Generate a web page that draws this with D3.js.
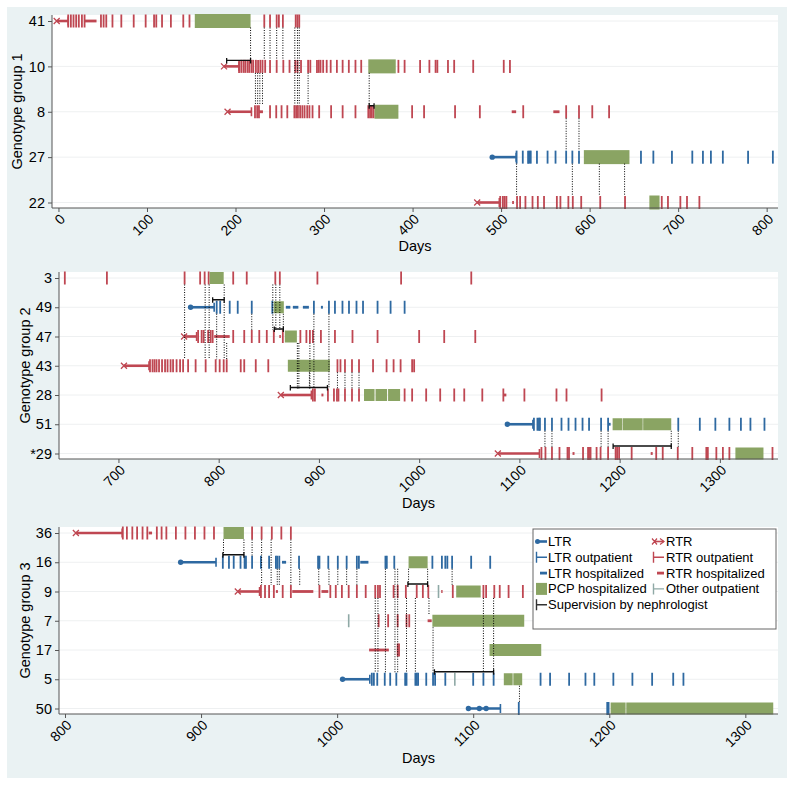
<!doctype html>
<html lang="en">
<head>
<meta charset="utf-8">
<title>Genotype groups: transplant, visits and PCP hospitalisations</title>
<script src="https://cdn.jsdelivr.net/npm/d3@7"></script>
<style>
  body { margin: 0; background: #fff; }
  svg text { font-family: "Liberation Sans", Arial, Helvetica, sans-serif; fill: #000; }
</style>
</head>
<body>
<svg id="chart" width="795" height="785"></svg>
<script>
// ---------- data, all values in days ----------
// genotype group 1
const rows1 = ["41", "10", "8", "27", "22"];
const kind1 = ["RTR", "RTR", "RTR", "LTR", "RTR"];
const transplant1 = [[-2, 11], [187, 204], [191, 218], [490, 517], [473, 498]];
const outpatient1 = [
  [11, 14, 17, 20, 23, 26.5, 29.5, 48, 51, 54, 61, 71, 85, 98.5, 108, 110.5, 117, 127, 141, 148, 232.5, 239, 246.5, 249, 253.5, 268, 270, 272],
  [204, 206.5, 209, 211, 213.5, 215.5, 218, 220, 223, 225.5, 228, 230.5, 233.5, 239, 246.5, 254, 261, 267.5, 270, 274, 282, 284.5, 292, 294, 296, 299, 303, 307.5, 314.5, 321, 328, 335.5, 342, 384, 391, 408.5, 419, 426, 428, 440, 447, 468.5, 503, 510],
  [222, 224.5, 226.5, 239, 246, 252, 258.5, 266.5, 268.5, 270.5, 273, 275.5, 278, 281, 283.5, 287, 294.5, 308, 321, 335.5, 350, 352, 354, 356, 399.5, 413, 448, 476, 525, 573.5, 588, 603, 622],
  [517.5, 524.5, 530.5, 532, 533.5, 540.5, 552.5, 561.5, 573.5, 580.5, 588, 658, 672, 693, 716, 728, 737, 750.5, 779, 807],
  [499, 502, 504, 506, 518, 521.5, 527.5, 535.5, 541.5, 548.5, 563, 567, 576, 581, 590.5, 612, 640, 681.5, 688.5, 702.5, 710, 724]
];
const other1 = [[], [], [], [], []];
const hospital1 = [[[29.5, 43]], [], [[226.5, 231], [512, 517], [559, 566]], [], [[512.5, 514.5]]];
const pcp1 = [[[154, 217]], [[350, 381]], [[357, 384]], [[593.5, 645]], [[667.5, 679]]];
const nephro1 = [[], [[190, 217]], [[351, 356.5]], [], []];
const contacts1 = [
  [217, "41", "10"], [232.5, "41", "10"], [239, "41", "10"], [246.5, "41", "10"], [253.5, "41", "10"],
  [267, "41", "8"], [270, "41", "8"], [272, "41", "8"],
  [222.5, "10", "8"], [225, "10", "8"], [227.5, "10", "8"], [230.5, "10", "8"], [282, "10", "8"], [351, "10", "8"],
  [573.5, "8", "27"], [588, "8", "27"],
  [517.5, "27", "22"], [580.5, "27", "22"], [611, "27", "22"], [639.5, "27", "22"]
];
const ticks1 = [0, 100, 200, 300, 400, 500, 600, 700, 800];

// genotype group 2
const rows2 = ["3", "49", "47", "43", "28", "51", "*29"];
const kind2 = ["RTR", "LTR", "RTR", "RTR", "RTR", "LTR", "RTR"];
const transplant2 = [null, [772, 795.5], [765.5, 778], [705.5, 730.5], [862, 892.5], [1088, 1113.5], [1078.5, 1120]];
const outpatient2 = [
  [646.5, 688.5, 766, 781.5, 786, 790, 814.5, 828, 856.5, 861, 898.5, 982, 1052],
  [798, 801.5, 811, 819, 833, 853.5, 895, 910, 916, 923.5, 930, 937.5, 944, 958.5, 971.5, 985.5],
  [779.5, 783, 785, 789.5, 792, 794, 814.5, 825.5, 833, 840.5, 848, 855, 864, 881.5, 887.5, 891, 894, 902, 916, 933.5, 958.5, 1000, 1025, 1056],
  [731.5, 734, 736, 738, 740.5, 743.5, 746.5, 749, 752, 754.5, 758, 761.5, 764.5, 769.5, 777, 787, 797, 801, 805, 808, 822, 825.5, 837, 849.5, 918.5, 921.5, 926, 933, 940, 954, 967.5, 974.5, 981.5, 993, 995],
  [894, 896, 909, 915, 918, 919.5, 926, 933, 940, 985.5, 993, 1007, 1021, 1035, 1045, 1063, 1084, 1105, 1137, 1147, 1182],
  [1114.5, 1118, 1119.5, 1120.5, 1125.5, 1132.5, 1142, 1149, 1156, 1163, 1169.5, 1181.5, 1188.5, 1258.5, 1280, 1295.5, 1309.5, 1321, 1330.5, 1344.5],
  [1122, 1126, 1132.5, 1140, 1148, 1149.5, 1163.5, 1168.5, 1169.5, 1171, 1177, 1181, 1188.5, 1196, 1197.5, 1199.5, 1212, 1236.5, 1243, 1258, 1272.5, 1286.5, 1288, 1296.5, 1303, 1309.5, 1352.5]
];
const other2 = [[], [], [], [], [], [], []];
const hospital2 = [[], [[867, 871.5], [874, 879.5], [884, 890], [902, 904]], [[795.5, 811], [860.5, 862]], [], [[902.5, 904.5], [1084, 1087]], [[1188.5, 1191]], [[1153, 1155], [1231, 1233]]];
const pcp2 = [[[791, 805]], [[855, 865]], [[866, 878]], [[869, 911]], [[945, 955.5], [956.5, 968], [969, 981]], [[1193, 1202.5], [1203, 1223], [1223.5, 1251.5]], [[1315.5, 1343.5]]];
const nephro2 = [[], [[794, 805.5]], [[855.5, 864.5]], [], [[871.5, 908.5]], [], [[1193.5, 1251.5]]];
const contacts2 = [
  [766, "3", "43"], [786.5, "3", "43"], [790.5, "3", "43"], [798, "49", "43"], [805.5, "3", "43"], [808, "47", "43"],
  [833, "49", "47"], [854, "3", "47"], [857, "3", "47"], [861, "3", "47"], [864.5, "49", "47"],
  [878.5, "47", "28"], [880, "47", "28"], [890.5, "43", "28"], [891, "47", "28"], [895, "49", "28"], [910, "49", "28"],
  [918.5, "43", "28"], [926, "43", "28"], [933, "43", "28"], [940, "43", "28"],
  [1125.5, "51", "*29"], [1132.5, "51", "*29"], [1181.5, "51", "*29"], [1188.5, "51", "*29"], [1251.5, "51", "*29"], [1258.5, "51", "*29"]
];
const ticks2 = [700, 800, 900, 1000, 1100, 1200, 1300];

// genotype group 3
const rows3 = ["36", "16", "9", "7", "17", "5", "50"];
const kind3 = ["RTR", "LTR", "RTR", "RTR", "RTR", "LTR", "LTR"];
const transplant3 = [[808, 842], [885, 911], [927, 943], null, null, [1004, 1024], [1096.5, 1104.5, 1109.5, 1120]];
const outpatient3 = [
  [842.5, 845.5, 849.5, 853, 857, 860.5, 867.5, 871, 874.5, 881.5, 888.5, 895.5, 902.5, 909.5, 937.5, 944.5, 952, 959, 966],
  [916, 920.5, 924, 929, 932, 933, 937.5, 944, 950, 955, 956, 957.5, 972, 986, 987, 993.5, 1000.5, 1007, 1014.5, 1016, 1035.5, 1036.5, 1042, 1070, 1077, 1079.5, 1081, 1084.5, 1098.5, 1112.5],
  [944, 947, 950, 953.5, 960, 966, 987, 995, 999, 1003.5, 1008.5, 1014.5, 1021, 1028, 1030, 1031.5, 1041.5, 1044.5, 1050.5, 1058.5, 1063, 1067, 1085, 1107.5, 1109.5, 1115.5, 1119.5, 1126, 1136.5],
  [1030.5, 1037.5, 1044.5, 1051, 1053],
  [1044.5, 1045.5],
  [1025.5, 1027, 1029.5, 1035, 1039, 1043.5, 1050, 1051, 1057.5, 1058.5, 1059.5, 1065.5, 1070.5, 1072, 1079.5, 1100, 1107.5, 1115, 1149.5, 1156.5, 1170.5, 1182.5, 1189, 1203, 1217, 1231.5, 1247, 1254.5],
  [1133.5, 1198.5, 1199.5]
];
const other3 = [[], [], [1074.5], [1008.5], [], [1086.5], []];
const hospital3 = [[[861.5, 864]], [[959.5, 962.5], [1017, 1023]], [[955, 956.5], [967, 982.5], [988.5, 993.5], [1076.5, 1077.5]], [[1066.5, 1069.5]], [[1023.5, 1038]], [], []];
const pcp3 = [[[916.5, 931.5]], [[1052.5, 1066.5]], [[1087.5, 1105.5]], [[1070, 1137.5]], [[1112, 1150]], [[1122.5, 1129], [1129.5, 1136]], [[1201, 1212], [1212.5, 1320.5]]];
const nephro3 = [[], [[916, 931.5]], [[1052, 1066.5]], [], [], [[1071.5, 1115]], []];
const contacts3 = [
  [916.5, "36", "16"], [931.5, "36", "16"], [937.5, "36", "16"], [944.5, "36", "9"], [951.5, "36", "9"], [956, "16", "9"], [957.5, "16", "9"],
  [966, "36", "9"], [972.5, "16", "9"], [986.5, "16", "9"], [994, "16", "9"], [1000.5, "16", "9"], [1007, "16", "9"], [1014.5, "16", "9"],
  [1028, "9", "5"], [1030, "9", "5"], [1035.5, "16", "5"], [1042.5, "16", "5"], [1044.5, "16", "5"], [1051, "9", "5"], [1052.5, "16", "9"],
  [1057.5, "9", "5"], [1066.5, "16", "9"], [1067.5, "9", "7"], [1070.5, "7", "5"], [1084.5, "16", "9"], [1107.5, "9", "5"], [1115, "9", "5"],
  [1134, "5", "50"]
];
const ticks3 = [800, 900, 1000, 1100, 1200, 1300];

const legendLabels = ["LTR", "RTR", "LTR outpatient", "RTR outpatient", "LTR hospitalized", "RTR hospitalized", "PCP hospitalized", "Other outpatient", "Supervision by nephrologist"];

// ---------- look ----------
const RED = "#bf4752", BLUE = "#2e69a1", GREEN = "#8aa463", OTHER = "#8fa9a6", BG = "#eaf2f3";
const colour = k => k === "LTR" ? BLUE : RED;

const svg = d3.select("#chart");
svg.append("rect").attr("x", 7).attr("y", 7).attr("width", 780).attr("height", 771).attr("fill", BG);

const panels = [
  { label: "Genotype group 1", rows: rows1, kind: kind1, tx: transplant1, op: outpatient1, oth: other1, ho: hospital1, pcp: pcp1, sup: nephro1, links: contacts1, ticks: ticks1,
    domain: [-7.3, 812.8], left: 52, right: 778, top: 15, bottom: 208, labelX: 22, daysY: 251, pcpH: 14, supOff: 6 },
  { label: "Genotype group 2", rows: rows2, kind: kind2, tx: transplant2, op: outpatient2, oth: other2, ho: hospital2, pcp: pcp2, sup: nephro2, links: contacts2, ticks: ticks2,
    domain: [640.7, 1358], left: 59, right: 778, top: 272, bottom: 459, labelX: 30, daysY: 508, pcpH: 12, supOff: 7.5 },
  { label: "Genotype group 3", rows: rows3, kind: kind3, tx: transplant3, op: outpatient3, oth: other3, ho: hospital3, pcp: pcp3, sup: nephro3, links: contacts3, ticks: ticks3,
    domain: [795.6, 1324], left: 59, right: 778, top: 527, bottom: 714, labelX: 30, daysY: 763, pcpH: 12, supOff: 7.5 }
];

panels.forEach(drawPanel);
drawLegend();

function drawPanel(p) {
  const g = svg.append("g");
  const x = d3.scaleLinear().domain(p.domain).range([p.left, p.right]);
  const y = d3.scalePoint().domain(p.rows).range([p.top + 6, p.bottom - 5.5]);
  const half = 6.5;

  g.append("rect").attr("x", p.left).attr("y", p.top)
    .attr("width", p.right - p.left).attr("height", p.bottom - p.top).attr("fill", "#fff");

  g.selectAll("line.grid").data(p.rows).join("line").attr("class", "grid")
    .attr("x1", p.left).attr("x2", p.right).attr("y1", d => y(d)).attr("y2", d => y(d))
    .attr("stroke", "#eef0f1").attr("stroke-width", 1);

  const rows = p.rows.map((id, i) => ({ id, kind: p.kind[i], tx: p.tx[i], op: p.op[i], oth: p.oth[i], ho: p.ho[i], pcp: p.pcp[i], sup: p.sup[i] }));
  const rg = g.selectAll("g.row").data(rows).join("g").attr("class", "row")
    .attr("transform", d => `translate(0,${y(d.id)})`);

  rg.each(function (r) {
    const s = d3.select(this);
    // outpatient visits
    s.selectAll("line.op").data(r.op).join("line").attr("class", "op")
      .attr("x1", d => x(d)).attr("x2", d => x(d)).attr("y1", -half).attr("y2", half)
      .attr("stroke", colour(r.kind)).attr("stroke-width", 1.8);
    s.selectAll("line.oth").data(r.oth).join("line").attr("class", "oth")
      .attr("x1", d => x(d)).attr("x2", d => x(d)).attr("y1", -half).attr("y2", half)
      .attr("stroke", OTHER).attr("stroke-width", 1.6);
    // hospital stays
    s.selectAll("line.ho").data(r.ho).join("line").attr("class", "ho")
      .attr("x1", d => x(d[0])).attr("x2", d => x(d[1])).attr("y1", 0).attr("y2", 0)
      .attr("stroke", colour(r.kind)).attr("stroke-width", 2.8);
    s.selectAll("rect.pcp").data(r.pcp).join("rect").attr("class", "pcp")
      .attr("x", d => x(d[0])).attr("width", d => x(d[1]) - x(d[0]))
      .attr("y", -p.pcpH / 2).attr("height", p.pcpH).attr("fill", GREEN);

    // transplant to first visit
    if (r.tx) {
      const c = colour(r.kind), a = r.tx[0], b = r.tx[r.tx.length - 1];
      s.append("line").attr("x1", x(a)).attr("x2", x(b)).attr("stroke", c).attr("stroke-width", 2.6);
      s.append("line").attr("x1", x(b)).attr("x2", x(b)).attr("y1", -4.5).attr("y2", 4.5).attr("stroke", c).attr("stroke-width", 1.6);
      if (r.kind === "LTR") {
        s.selectAll("circle.tx").data(r.tx.slice(0, -1)).join("circle").attr("class", "tx")
          .attr("cx", d => x(d)).attr("r", 2.7).attr("fill", c);
      } else {
        s.append("path").attr("d", `M${x(a) - 3},-3L${x(a) + 3},3M${x(a) - 3},3L${x(a) + 3},-3`)
          .attr("stroke", c).attr("stroke-width", 1.3).attr("fill", "none");
      }
    }

    // supervision by nephrologist
    s.selectAll("path.sup").data(r.sup).join("path").attr("class", "sup")
      .attr("d", d => {
        const yy = -p.supOff, x0 = x(d[0]), x1 = x(d[1]);
        return `M${x0},${yy - 2.5}V${yy + 3}M${x0},${yy}H${x1}M${x1},${yy - 2.5}V${yy + 3}`;
      })
      .attr("stroke", "#111").attr("stroke-width", 1.3).attr("fill", "none");
  });

  // contacts between patients
  g.selectAll("line.link").data(p.links).join("line").attr("class", "link")
    .attr("x1", d => x(d[0])).attr("x2", d => x(d[0]))
    .attr("y1", d => y(d[1]) + half).attr("y2", d => y(d[2]) - half)
    .attr("stroke", "#000").attr("stroke-width", 1).attr("stroke-dasharray", "1,1.5");

  // axes
  const ya = g.append("g").attr("transform", `translate(${p.left},0)`)
    .call(d3.axisLeft(y).tickSize(4).tickPadding(3));
  ya.select(".domain").attr("stroke", "#555").attr("d", `M0,${p.top}V${p.bottom}`);
  ya.selectAll(".tick line").attr("stroke", "#555");
  ya.selectAll("text").style("font-size", "14.5px");

  const xa = g.append("g").attr("transform", `translate(0,${p.bottom})`)
    .call(d3.axisBottom(x).tickValues(p.ticks).tickSize(4).tickFormat(d3.format("d")));
  xa.select(".domain").attr("stroke", "#555").attr("d", `M${p.left},0H${p.right}`);
  xa.selectAll(".tick line").attr("stroke", "#555");
  xa.selectAll("text").style("font-size", "14px")
    .attr("text-anchor", "end").attr("x", 0).attr("y", 0).attr("dy", 0)
    .attr("transform", "translate(7,12) rotate(-45)");

  g.append("text").attr("transform", `translate(${p.labelX},${(p.top + p.bottom) / 2}) rotate(-90)`)
    .attr("text-anchor", "middle").style("font-size", "14.5px").text(p.label);
  g.append("text").attr("x", (p.left + p.right) / 2).attr("y", p.daysY)
    .attr("text-anchor", "middle").style("font-size", "14.5px").text("Days");
}

function drawLegend() {
  const g = svg.append("g").attr("transform", "translate(533,529)");
  g.append("rect").attr("width", 243).attr("height", 100).attr("fill", "#fff").attr("stroke", "#666").attr("stroke-width", 1);
  const rowY = i => 12.5 + i * 15.8;
  const items = legendLabels.map((t, i) => ({ t, col: i === 8 ? 0 : i % 2, row: i === 8 ? 4 : Math.floor(i / 2) }));
  const it = g.selectAll("g.item").data(items).join("g").attr("class", "item")
    .attr("transform", d => `translate(${d.col ? 119 : 2},${rowY(d.row)})`);
  it.append("text").attr("x", d => d.col ? 14 : 13).attr("y", 4.5).style("font-size", "13px").text(d => d.t);
  it.each(function (d) {
    const s = d3.select(this);
    const cap = c => s.append("path").attr("d", "M1.5,-5.5V5.5M1.5,0H12").attr("stroke", c).attr("stroke-width", 1.4).attr("fill", "none");
    if (d.t === "LTR") {
      s.append("line").attr("x1", 2).attr("x2", 12).attr("stroke", BLUE).attr("stroke-width", 2.6);
      s.append("circle").attr("cx", 2.5).attr("r", 2.5).attr("fill", BLUE);
    } else if (d.t === "RTR") {
      s.append("line").attr("x1", 2).attr("x2", 12).attr("stroke", RED).attr("stroke-width", 1.6);
      s.append("path").attr("d", "M0,-3L5,3M0,3L5,-3M8,-3L12,0L8,3").attr("stroke", RED).attr("stroke-width", 1.2).attr("fill", "none");
    } else if (d.t === "LTR outpatient") cap(BLUE);
    else if (d.t === "RTR outpatient") cap(RED);
    else if (d.t === "Other outpatient") cap(OTHER);
    else if (d.t === "Supervision by nephrologist") cap("#333");
    else if (d.t === "LTR hospitalized") s.append("line").attr("x1", 5).attr("x2", 12).attr("stroke", BLUE).attr("stroke-width", 2.8);
    else if (d.t === "RTR hospitalized") s.append("line").attr("x1", 5).attr("x2", 12).attr("stroke", RED).attr("stroke-width", 2.8);
    else if (d.t === "PCP hospitalized") s.append("rect").attr("x", 1).attr("y", -6).attr("width", 11).attr("height", 12).attr("fill", GREEN);
  });
}
</script>
</body>
</html>
